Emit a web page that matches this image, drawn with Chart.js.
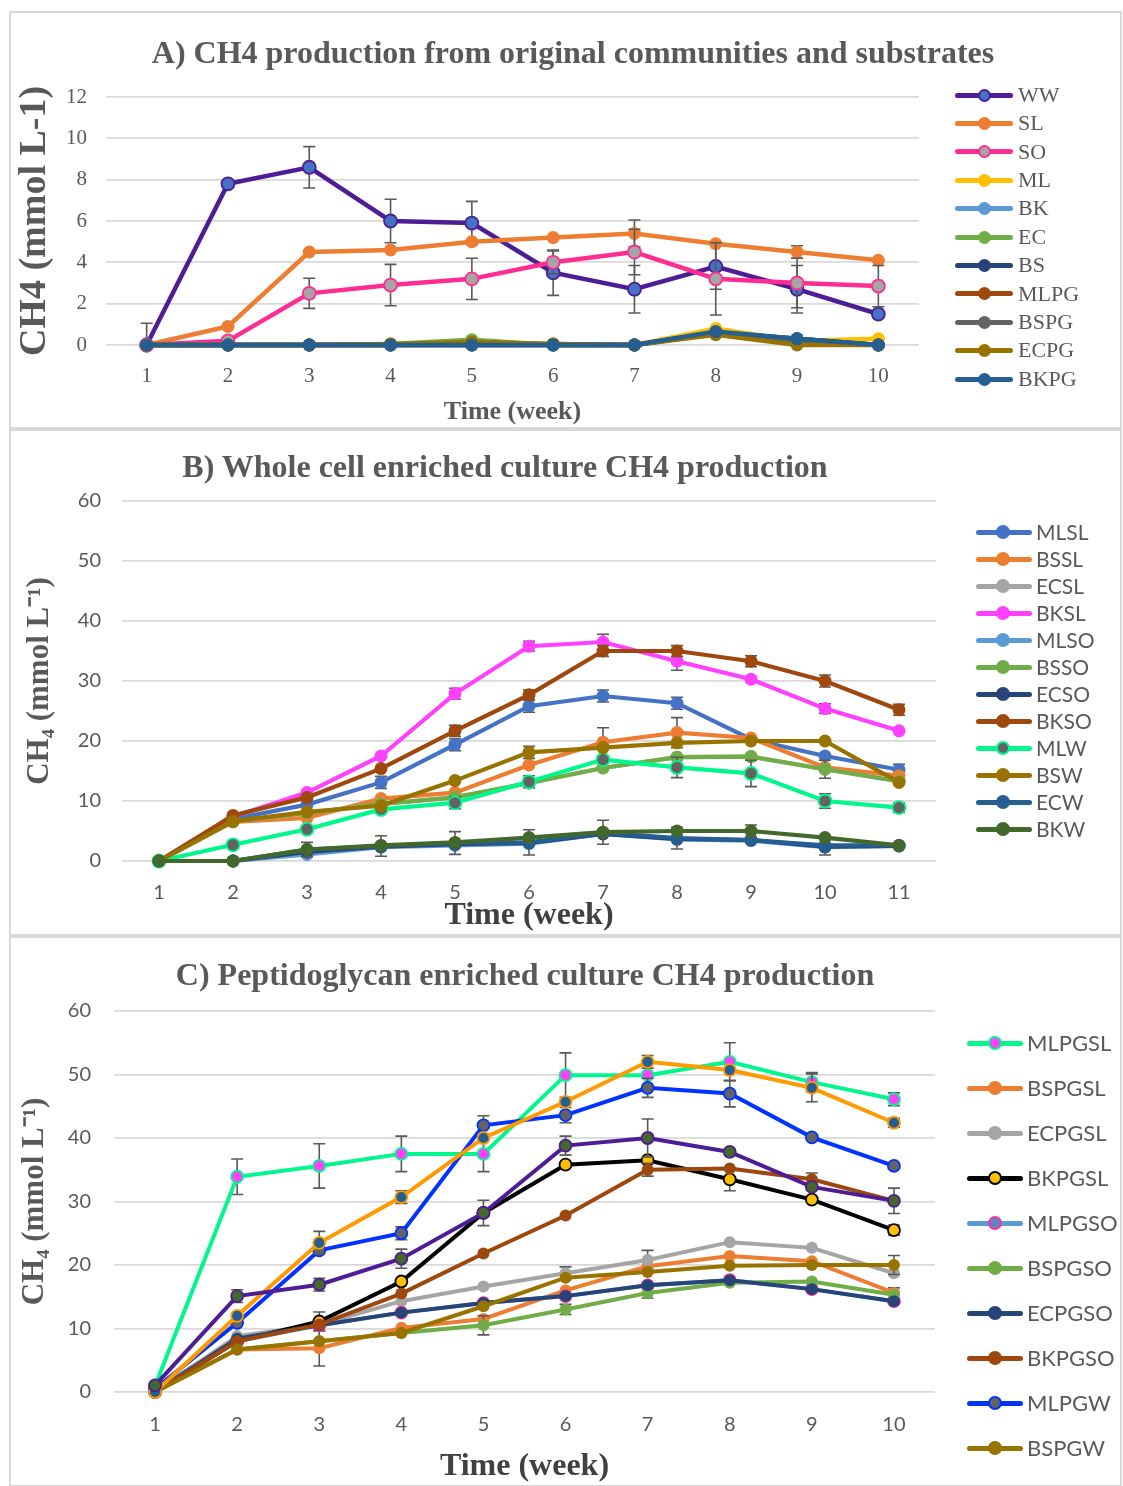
<!DOCTYPE html>
<html>
<head>
<meta charset="utf-8">
<script src="https://cdn.jsdelivr.net/npm/chart.js@4.4.0/dist/chart.umd.min.js"></script>
<style>
  body { margin: 0; background: #fff; width: 1123px; height: 1486px; position: relative; overflow: hidden; }
  .panel { position: absolute; left: 10px; width: 1111px; outline: 2px solid #d9d9d9; outline-offset: -1px; }
  .panel canvas { position: absolute; left: 0; top: 0; }
  .title { position: absolute; width: 1000px; text-align: center; font-family: 'Liberation Serif', serif; font-weight: bold; font-size: 32px; color: #595959; line-height: 38px; white-space: nowrap; }
  .leg { position: absolute; }
  .leg .ln { position: absolute; border-radius: 3px; }
  .leg .mk { position: absolute; border-radius: 50%; box-sizing: border-box; }
  .leg .tx { position: absolute; color: #595959; white-space: nowrap; }
</style>
</head>
<body>

<div class="panel" id="pA" style="top:12px;height:416px"><canvas id="cA" width="1111" height="416"></canvas></div>
<div class="panel" id="pB" style="top:430px;height:505px"><canvas id="cB" width="1111" height="505"></canvas></div>
<div class="panel" id="pC" style="top:937px;height:549px"><canvas id="cC" width="1111" height="549"></canvas></div>

<div class="title" style="left:73px;top:33px">A) CH4 production from original communities and substrates</div>
<div class="title" style="left:5px;top:447px">B) Whole cell enriched culture CH4 production</div>
<div class="title" style="left:25px;top:955px">C) Peptidoglycan enriched culture CH4 production</div>

<script>
// ---- A) original communities ----
const weeksA = ['1', '2', '3', '4', '5', '6', '7', '8', '9', '10'];
const ww    = [0, 7.8, 8.6, 6.0, 5.9, 3.5, 2.7, 3.8, 2.7, 1.5];
const wwErr = [1.05, 0, 1.0, 1.05, 1.05, 1.1, 1.15, 1.1, 1.15, 0];
const sl    = [0, 0.9, 4.5, 4.6, 5.0, 5.2, 5.4, 4.9, 4.5, 4.1];
const slErr = [0, 0, 0, 0, 0, 0, 0.65, 0, 0.3, 0];
const so    = [0, 0.2, 2.5, 2.9, 3.2, 4.0, 4.5, 3.2, 3.0, 2.85];
const soErr = [0, 0, 0.73, 1.0, 1.0, 0.55, 1.1, 1.75, 1.2, 1.0];
const ml    = [0, 0, 0, 0, 0.1, 0, 0, 0.8, 0.2, 0.3];
const bk    = [0, 0, 0, 0, 0, 0, 0, 0.6, 0.3, 0];
const ec    = [0, 0, 0, 0.05, 0.25, 0, 0, 0.6, 0.3, 0];
const bs    = [0, 0, 0, 0, 0, 0, 0, 0.6, 0.3, 0];
const mlpg  = [0, 0, 0, 0, 0.1, 0.05, 0, 0.55, 0.1, 0];
const bspg  = [0, 0, 0, 0, 0, 0, 0, 0.55, 0.2, 0];
const ecpg  = [0, 0, 0, 0.05, 0.15, 0.05, 0, 0.5, 0, 0];
const bkpg  = [0, 0, 0, 0, 0, 0, 0, 0.65, 0.3, 0];

// ---- B) whole cell enriched ----
const weeksB = ['1', '2', '3', '4', '5', '6', '7', '8', '9', '10', '11'];
const mlsl = [0, 7.0, 9.4, 13.1, 19.4, 25.8, 27.5, 26.3, 20.3, 17.5, 15.2];
const bssl = [0, 6.5, 7.2, 10.4, 11.4, 16.0, 19.8, 21.4, 20.5, 15.6, 14.2];
const ecsl = [0, 6.6, 8.0, 9.5, 10.6, 13.0, 15.5, 17.3, 17.4, 15.3, 13.3];
const bksl = [0, 7.4, 11.4, 17.5, 27.9, 35.8, 36.5, 33.3, 30.3, 25.4, 21.7];
const mlso = [0, 0, 1.1, 2.3, 2.6, 2.9, 4.5, 3.6, 3.4, 2.3, 2.5];
const bsso = [0, 6.6, 8.0, 9.5, 10.6, 13.0, 15.5, 17.3, 17.4, 15.3, 13.3];
const ecso = [0, 0, 1.5, 2.4, 2.8, 3.0, 4.5, 3.7, 3.5, 2.4, 2.5];
const bkso = [0, 7.6, 10.6, 15.4, 21.7, 27.7, 35.0, 35.0, 33.3, 30.0, 25.2];
const mlw  = [0, 2.7, 5.3, 8.6, 9.7, 13.2, 16.9, 15.6, 14.6, 10.0, 8.9];
const bsw  = [0, 6.6, 8.2, 9.2, 13.4, 18.1, 18.9, 19.7, 20.0, 20.0, 13.1];
const ecw  = [0, 0, 1.9, 2.5, 3.0, 3.1, 4.7, 3.8, 3.5, 2.6, 2.6];
const bkw  = [0, 0, 1.9, 2.6, 3.1, 3.9, 4.8, 5.0, 5.0, 3.9, 2.6];
const mlslErr = [0, 0, 0, 1.0, 1.0, 1.0, 1.0, 1.0, 0, 0, 0.9];
const bsslErr = [0, 0, 0, 0, 0, 0, 2.4, 2.5, 0, 0, 0];
const bkslErr = [0, 0, 0, 0, 0.9, 0.8, 1.3, 1.5, 0, 0.8, 0];
const bssoErr = [0, 0, 0, 0, 0, 0, 0, 0, 0, 1.5, 0];
const bksoErr = [0, 0, 0, 0, 0.9, 0.8, 0.9, 0.9, 0.9, 1.0, 0.9];
const mlwErr  = [0, 0, 0, 0, 1.0, 1.0, 0, 1.7, 2.2, 1.2, 0.8];
const bswErr  = [0, 0, 0, 0, 0, 1.0, 0, 0, 0, 0, 0];
const ecwErr  = [0, 0, 0, 1.7, 1.9, 2.1, 0, 1.8, 0, 1.6, 0];
const bkwErr  = [0, 0, 1.2, 0, 0, 0, 2.0, 0, 1.0, 0, 0];

// ---- C) peptidoglycan enriched ----
const weeksC = ['1', '2', '3', '4', '5', '6', '7', '8', '9', '10'];
const mlpgsl = [1.0, 33.9, 35.6, 37.5, 37.5, 49.9, 49.9, 52.0, 48.8, 46.1];
const bspgsl = [0, 6.7, 6.9, 10.1, 11.5, 16.0, 19.8, 21.4, 20.6, 15.6];
const ecpgsl = [0, 8.8, 10.6, 14.3, 16.6, 18.7, 20.8, 23.6, 22.7, 18.7];
const bkpgsl = [0, 8.0, 11.1, 17.4, 28.2, 35.8, 36.5, 33.5, 30.3, 25.5];
const mlpgso = [0.5, 8.0, 10.5, 12.5, 14.0, 15.1, 16.8, 17.6, 16.2, 14.3];
const bspgso = [0, 6.7, 8.0, 9.3, 10.5, 13.0, 15.6, 17.2, 17.4, 15.3];
const ecpgso = [0, 8.4, 10.5, 12.5, 14.0, 15.1, 16.8, 17.6, 16.2, 14.3];
const bkpgso = [0, 8.0, 10.6, 15.5, 21.8, 27.8, 35.0, 35.2, 33.5, 30.1];
const mlpgw  = [0.5, 10.9, 22.3, 25.0, 42.0, 43.6, 47.9, 47.0, 40.1, 35.6];
const bspgw  = [0, 6.7, 8.0, 9.3, 13.5, 18.0, 18.9, 19.9, 20.0, 20.0];
const ecpgw  = [0, 12.0, 23.5, 30.7, 40.0, 45.7, 52.0, 50.7, 47.9, 42.4];
const bkpgw  = [1.05, 15.1, 16.9, 21.0, 28.2, 38.8, 40.0, 37.8, 32.3, 30.1];
const mlpgslErr = [0, 2.8, 3.5, 2.8, 2.8, 3.5, 0, 3.0, 1.5, 1.0];
const bspgslErr = [0, 0, 2.8, 0, 0, 0, 0, 0, 0, 0.8];
const ecpgslErr = [0, 0, 0, 0, 0, 1.0, 1.5, 0, 0, 0];
const bkpgslErr = [0, 0, 1.5, 0, 0, 0, 0, 1.8, 0, 0.8];
const bspgsoErr = [0, 0, 0, 0, 1.5, 0.8, 0.8, 0, 0, 0];
const bkpgsoErr = [0, 0, 0, 0, 0, 0, 1.0, 0, 1.0, 0];
const mlpgwErr  = [0, 0, 0, 1.0, 1.5, 1.2, 1.5, 2.1, 0, 0];
const bspgwErr  = [0, 0, 0, 0, 0, 0, 0, 0, 0, 1.5];
const ecpgwErr  = [0, 0, 1.8, 1.0, 0, 0, 1.0, 0, 2.2, 0.7];
const bkpgwErr  = [0, 1.0, 1.0, 1.5, 2.0, 1.5, 3.0, 0, 0, 2.0];

const seriesA = [
  { name: 'WW', data: ww, err: wwErr, line: '#4E1C94', fill: '#4472C4' },
  { name: 'SL', data: sl, err: slErr, line: '#ED7D31' },
  { name: 'SO', data: so, err: soErr, line: '#FF2D91', fill: '#A5A5A5' },
  { name: 'ML', data: ml, line: '#FFC000' },
  { name: 'BK', data: bk, line: '#5B9BD5' },
  { name: 'EC', data: ec, line: '#70AD47' },
  { name: 'BS', data: bs, line: '#264478' },
  { name: 'MLPG', data: mlpg, line: '#9E480E' },
  { name: 'BSPG', data: bspg, line: '#636363' },
  { name: 'ECPG', data: ecpg, line: '#997300' },
  { name: 'BKPG', data: bkpg, line: '#255E91' }
];

const seriesB = [
  { name: 'MLSL', data: mlsl, err: mlslErr, line: '#4472C4' },
  { name: 'BSSL', data: bssl, err: bsslErr, line: '#ED7D31' },
  { name: 'ECSL', data: ecsl, line: '#A5A5A5' },
  { name: 'BKSL', data: bksl, err: bkslErr, line: '#FF40FF' },
  { name: 'MLSO', data: mlso, line: '#5B9BD5' },
  { name: 'BSSO', data: bsso, err: bssoErr, line: '#70AD47' },
  { name: 'ECSO', data: ecso, line: '#264478' },
  { name: 'BKSO', data: bkso, err: bksoErr, line: '#9E480E' },
  { name: 'MLW', data: mlw, err: mlwErr, line: '#00F78C', fill: '#636363' },
  { name: 'BSW', data: bsw, err: bswErr, line: '#997300' },
  { name: 'ECW', data: ecw, err: ecwErr, line: '#255E91' },
  { name: 'BKW', data: bkw, err: bkwErr, line: '#43682B' }
];

const seriesC = [
  { name: 'MLPGSL', data: mlpgsl, err: mlpgslErr, line: '#00F78C', fill: '#FF40FF' },
  { name: 'BSPGSL', data: bspgsl, err: bspgslErr, line: '#ED7D31' },
  { name: 'ECPGSL', data: ecpgsl, err: ecpgslErr, line: '#A5A5A5' },
  { name: 'BKPGSL', data: bkpgsl, err: bkpgslErr, line: '#000000', fill: '#FFC000' },
  { name: 'MLPGSO', data: mlpgso, line: '#5B9BD5', fill: '#5F86C8', edge: '#FF3399' },
  { name: 'BSPGSO', data: bspgso, err: bspgsoErr, line: '#70AD47' },
  { name: 'ECPGSO', data: ecpgso, line: '#264478' },
  { name: 'BKPGSO', data: bkpgso, err: bkpgsoErr, line: '#9E480E' },
  { name: 'MLPGW', data: mlpgw, err: mlpgwErr, line: '#0033FF', fill: '#636363' },
  { name: 'BSPGW', data: bspgw, err: bspgwErr, line: '#997300' },
  { name: 'ECPGW', data: ecpgw, err: ecpgwErr, line: '#FF9900', fill: '#255E91', hideLegend: true },
  { name: 'BKPGW', data: bkpgw, err: bkpgwErr, line: '#4E1C94', fill: '#43682B', hideLegend: true }
];

// error bars drawn just before each series so its own line and markers sit on top
const errorBars = {
  id: 'errorBars',
  beforeDatasetDraw(chart, args) {
    const ds = chart.data.datasets[args.index];
    if (!ds.errors) return;
    const ctx = chart.ctx, y = chart.scales.y, area = chart.chartArea;
    ctx.save();
    ctx.beginPath();
    ctx.rect(area.left, area.top - 20, area.right - area.left, area.bottom - area.top + 20);
    ctx.clip();
    ctx.strokeStyle = '#595959';
    ctx.lineWidth = 1.6;
    ds.errors.forEach((e, j) => {
      if (!e) return;
      const px = args.meta.data[j].x;
      const top = y.getPixelForValue(ds.data[j] + e);
      const bot = y.getPixelForValue(ds.data[j] - e);
      ctx.beginPath();
      ctx.moveTo(px, top); ctx.lineTo(px, bot);
      ctx.moveTo(px - 6, top); ctx.lineTo(px + 6, top);
      ctx.moveTo(px - 6, bot); ctx.lineTo(px + 6, bot);
      ctx.stroke();
    });
    ctx.restore();
  }
};

function buildChart(p) {
  const n = p.series.length;
  return new Chart(document.getElementById(p.el), {
    type: 'line',
    data: {
      labels: p.labels,
      datasets: p.series.map((s, i) => ({
        label: s.name,
        data: s.data,
        errors: s.err,
        borderColor: s.line,
        backgroundColor: s.line,
        pointBackgroundColor: s.fill || s.line,
        pointBorderColor: s.edge || s.line,
        pointBorderWidth: s.fill ? 1.8 : 0,
        pointRadius: p.r,
        borderWidth: p.lw,
        tension: 0,
        clip: false,
        order: n - i
      }))
    },
    options: {
      responsive: false,
      animation: false,
      devicePixelRatio: 1,
      layout: { padding: p.pad },
      plugins: { legend: { display: false }, title: { display: false }, tooltip: { enabled: false } },
      scales: {
        x: {
          offset: true,
          grid: { display: false, drawTicks: false },
          border: { display: false },
          ticks: { font: p.tickFont, color: '#595959', padding: p.xPad, maxRotation: 0, autoSkip: false },
          title: { display: true, text: 'Time (week)', font: p.xTitleFont, color: p.xTitleColor, padding: { top: 0, bottom: 0 } },
          afterFit: s => { s.height = p.xh; }
        },
        y: {
          min: 0, max: p.max,
          grid: { color: '#d9d9d9', lineWidth: 1.8, drawTicks: false },
          border: { display: false },
          ticks: { stepSize: p.step, font: p.tickFont, color: '#595959', padding: p.yPad },
          title: { display: true, text: p.yTitle, font: p.yTitleFont, color: '#595959', padding: { top: p.yTitlePad, bottom: 0 } },
          afterFit: s => { s.width = p.yw; }
        }
      }
    },
    plugins: [errorBars]
  });
}

function buildLegend(series, g) {
  let k = 0;
  series.forEach(s => {
    if (s.hideLegend) return;
    const cy = g.y0 + g.dy * k++;
    const box = document.createElement('div');
    box.className = 'leg';
    box.style.left = '0px'; box.style.top = '0px';
    const ln = document.createElement('div');
    ln.className = 'ln';
    Object.assign(ln.style, { left: g.x0 + 'px', top: (cy - g.lw / 2) + 'px', width: g.len + 'px', height: g.lw + 'px', background: s.line });
    const mk = document.createElement('div');
    mk.className = 'mk';
    Object.assign(mk.style, { left: (g.mx - g.r) + 'px', top: (cy - g.r) + 'px', width: 2 * g.r + 'px', height: 2 * g.r + 'px',
      background: s.fill || s.line, border: s.fill ? '2px solid ' + (s.edge || s.line) : 'none' });
    const tx = document.createElement('div');
    tx.className = 'tx';
    tx.textContent = s.name;
    Object.assign(tx.style, { left: g.tx + 'px', top: (cy - g.size * 0.6) + 'px', fontFamily: g.family, fontSize: g.size + 'px', lineHeight: (g.size * 1.2) + 'px' });
    box.appendChild(ln); box.appendChild(mk); box.appendChild(tx);
    document.body.appendChild(box);
  });
}

const serif = 'Liberation Serif, serif';
const sans = 'Lato, sans-serif';

buildChart({
  el: 'cA', labels: weeksA, series: seriesA, max: 12, step: 2, r: 6.5, lw: 4.5,
  pad: { top: 85, right: 202, bottom: 0, left: 0 }, yw: 96, xh: 83,
  tickFont: { family: serif, size: 21 }, xPad: 19, yPad: 19,
  yTitle: 'CH4 (mmol L-1)', yTitleFont: { family: serif, size: 38, weight: 'bold' }, yTitlePad: 2.2,
  xTitleFont: { family: serif, size: 26, weight: 'bold' }, xTitleColor: '#595959'
});

buildChart({
  el: 'cB', labels: weeksB, series: seriesB, max: 60, step: 10, r: 6.5, lw: 4.2,
  pad: { top: 71, right: 185, bottom: 0, left: 0 }, yw: 112, xh: 74,
  tickFont: { family: sans, size: 20 }, xPad: 20, yPad: 21,
  yTitle: 'CH₄ (mmol L⁻¹)', yTitleFont: { family: serif, size: 31, weight: 'bold' }, yTitlePad: 11,
  xTitleFont: { family: serif, size: 32, weight: 'bold' }, xTitleColor: '#404040'
});

buildChart({
  el: 'cC', labels: weeksC, series: seriesC, max: 60, step: 10, r: 6, lw: 4,
  pad: { top: 74, right: 186, bottom: 0, left: 0 }, yw: 104, xh: 94,
  tickFont: { family: sans, size: 20 }, xPad: 21, yPad: 23,
  yTitle: 'CH₄ (mmol L⁻¹)', yTitleFont: { family: serif, size: 31, weight: 'bold' }, yTitlePad: 6,
  xTitleFont: { family: serif, size: 32, weight: 'bold' }, xTitleColor: '#404040'
});

buildLegend(seriesA, { x0: 955, len: 58, mx: 984, r: 6.5, lw: 5, tx: 1018, y0: 95, dy: 28.4, family: serif, size: 22 });
buildLegend(seriesB, { x0: 976, len: 56, mx: 1003, r: 7, lw: 5, tx: 1036, y0: 532, dy: 27, family: sans, size: 21 });
buildLegend(seriesC, { x0: 967, len: 56, mx: 995, r: 7, lw: 5, tx: 1027, y0: 1043, dy: 45, family: sans, size: 22 });
</script>
</body>
</html>
